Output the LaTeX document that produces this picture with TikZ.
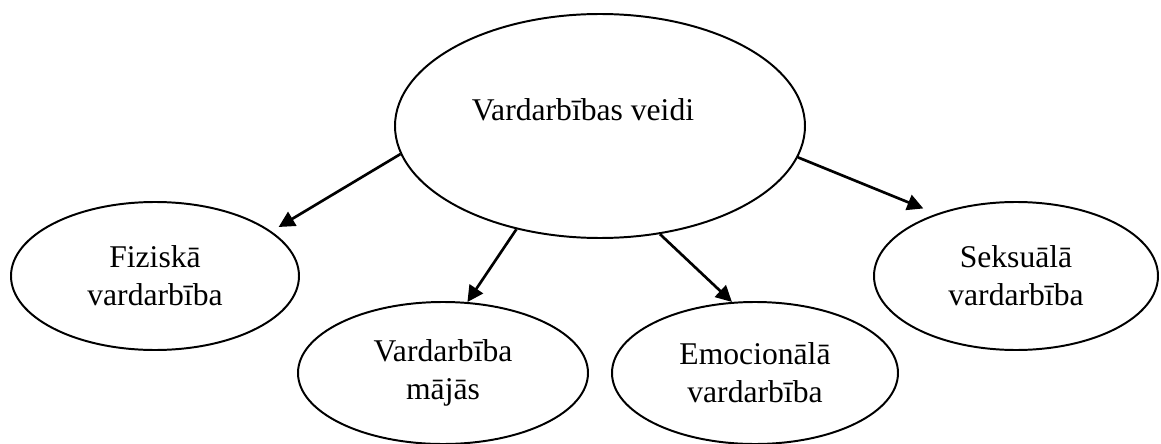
\documentclass[tikz,border=0pt]{standalone}
\usepackage{fontspec}
\setmainfont{Liberation Serif}
\usepackage{tikz}
\usetikzlibrary{arrows.meta}
\usetikzlibrary{shapes.geometric}
\usetikzlibrary{positioning}
\tikzset{oval/.style = {draw, ellipse, line width = 1.4pt, inner sep = 0, align = center, font = \fontsize{22.5}{27}\selectfont}}
\tikzset{arr/.style = {-{Triangle[length = 0.4cm, width = 0.4cm]}, line width = 1.9pt}}
\tikzset{lbl/.style = {inner sep = 0, font = \fontsize{22.5}{27}\selectfont}}

\begin{document}
\begin{tikzpicture}

      \useasboundingbox (0, 0) rectangle (29.025, 11.075);

      \node [oval, minimum width = 10.25cm, minimum height = 5.6cm] (veidi) at (15, 7.925) {};
      \node [lbl, anchor = base] (veiditxt) at (14.575, 8.05) {Vardarbības veidi};

      \node [oval, minimum width = 7.2cm, minimum height = 3.7cm] (fiz) at (3.875, 4.175) {Fiziskā\\vardarbība};
      \node [oval, minimum width = 7.25cm, minimum height = 3.55cm] (maj) at (11.075, 1.75) {Vardarbība\\mājās};
      \node [oval, minimum width = 7.15cm, minimum height = 3.55cm] (emo) at (18.875, 1.75) {Emocionālā\\vardarbība};
      \node [oval, minimum width = 7.1cm, minimum height = 3.7cm] (sek) at (25.4, 4.175) {Seksuālā\\vardarbība};

      \draw [arr, shorten >= 0.21cm] (veidi.188.6) -- (fiz.21.5);
      \draw [arr] (veidi.231) -- (maj.71.3);
      \draw [arr] (veidi.299.6) -- (emo.108.7);
      \draw [arr, shorten >= 0.35cm] (veidi.351.3) -- (sek.142.6);

    \end{tikzpicture}
\end{document}
